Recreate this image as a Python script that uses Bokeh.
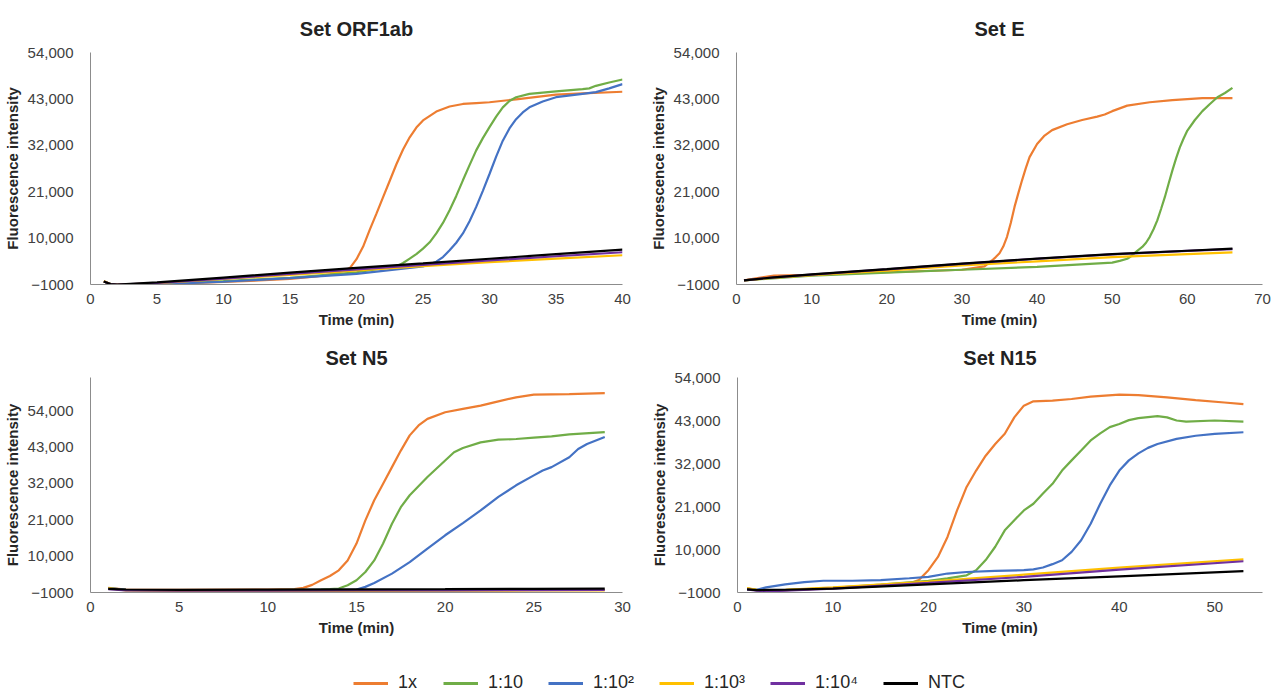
from bokeh.plotting import figure
from bokeh.models import Range1d, FixedTicker
from bokeh.layouts import column, row
from bokeh.embed import file_html
from bokeh.resources import INLINE

FONT = "Liberation Sans"
SERIES_NAMES = ["1x", "1:10", "1:10²", "1:10³", "1:10⁴", "NTC"]
SERIES_COLORS = ["#ED7D31", "#70AD47", "#4472C4", "#FFC000", "#7030A0", "#000000"]

Y_TICKS = [-1000, 10000, 21000, 32000, 43000, 54000]
Y_TICK_LABELS = ["−1000", "10,000", "21,000", "32,000", "43,000", "54,000"]

# ---------------- Set ORF1ab ----------------
orf_1x_t = [1, 1.5, 2, 5, 10, 15, 17, 18, 19, 19.5, 20, 20.5, 21, 21.5, 22, 22.5, 23, 23.5, 24, 24.5, 25, 26, 27, 28, 29, 30, 32, 35, 37, 40]
orf_1x_y = [-300, -900, -1050, -950, -400, 300, 900, 1400, 2200, 2900, 5000, 8000, 12000, 15800, 19700, 23600, 27500, 31000, 33900, 36200, 37900, 40000, 41200, 41800, 42000, 42200, 42900, 44000, 44300, 44700]
orf_10_t = [1, 1.5, 2, 5, 10, 15, 20, 23, 23.5, 24, 24.5, 25, 25.5, 26, 26.5, 27, 27.5, 28, 28.5, 29, 29.5, 30, 30.5, 31, 31.5, 32, 33, 35, 37, 37.5, 38, 39, 40]
orf_10_y = [-300, -900, -1100, -850, -200, 600, 1900, 3300, 4100, 5150, 6200, 7500, 9000, 11100, 13600, 16600, 20000, 23700, 27300, 30800, 33700, 36300, 38800, 41000, 42500, 43400, 44200, 44800, 45300, 45500, 46100, 46900, 47600]
orf_100_t = [1, 1.5, 2, 5, 10, 15, 20, 25, 25.5, 26, 26.5, 27, 27.5, 28, 28.5, 29, 29.5, 30, 30.5, 31, 31.5, 32, 32.5, 33, 34, 35, 37, 38, 39, 40]
orf_100_y = [-300, -900, -1100, -950, -350, 500, 1500, 3300, 3800, 4400, 5500, 7100, 8900, 11100, 14000, 17400, 21200, 25200, 29300, 33100, 36000, 38200, 39800, 41000, 42400, 43400, 44200, 44600, 45500, 46500]
orf_base_t = [1, 1.5, 2, 5, 10, 15, 20, 25, 30, 35, 40]
orf_1000_y = [-200, -900, -1050, -700, 300, 1300, 2350, 3350, 4300, 5150, 5930]
orf_10000_y = [-300, -900, -1050, -650, 400, 1500, 2600, 3650, 4700, 5700, 6640]
orf_ntc_y = [-300, -900, -1000, -500, 650, 1800, 2950, 4000, 5100, 6200, 7270]

# ---------------- Set E ----------------
e_1x_t = [1, 3, 5, 10, 20, 30, 33, 34, 34.5, 35, 35.5, 36, 36.5, 37, 37.5, 38, 38.5, 39, 40, 41, 42, 44, 46, 48, 49, 50, 52, 55, 58, 62, 66]
e_1x_y = [0, 600, 1100, 1300, 1900, 2500, 3300, 4700, 5500, 6400, 8000, 10300, 13600, 17400, 20600, 23700, 26600, 29200, 32300, 34300, 35600, 37000, 38000, 38800, 39300, 40100, 41400, 42200, 42700, 43200, 43200]
e_10_t = [1, 10, 20, 30, 40, 50, 51, 52, 52.5, 53, 53.5, 54, 54.5, 55, 55.5, 56, 56.5, 57, 57.5, 58, 58.5, 59, 59.5, 60, 61, 62, 63, 64, 65, 66]
e_10_y = [0, 1100, 1800, 2500, 3200, 4200, 4600, 5100, 5700, 6500, 7200, 7900, 8900, 10300, 12100, 14200, 16900, 19700, 22900, 26000, 28900, 31500, 33600, 35500, 38000, 40100, 41800, 43400, 44400, 45600]
e_base_t = [1, 5, 10, 20, 30, 40, 50, 60, 66]
e_1000_y = [0, 600, 1200, 2300, 3500, 4500, 5500, 6200, 6600]
e_10000_y = [0, 700, 1350, 2600, 3900, 5100, 6150, 6950, 7400]
e_ntc_y = [0, 700, 1400, 2650, 3950, 5150, 6200, 7000, 7500]

# ---------------- Set N5 ----------------
n5_1x_t = [1, 2, 5, 10, 11.5, 12, 12.5, 13, 13.5, 14, 14.5, 15, 15.5, 16, 16.5, 17, 17.5, 18, 18.5, 19, 20, 21, 22, 23, 24, 25, 27, 29]
n5_1x_y = [400, -100, -200, -150, 0, 400, 1300, 2700, 4000, 5700, 8700, 13800, 20800, 26900, 31900, 36900, 41900, 46500, 49500, 51500, 53500, 54500, 55500, 56800, 58000, 58800, 59000, 59300]
n5_10_t = [1, 2, 5, 10, 13, 13.5, 14, 14.5, 15, 15.5, 16, 16.5, 17, 17.5, 18, 19, 20, 20.5, 21, 22, 23, 24, 25, 26, 27, 29]
n5_10_y = [300, -200, -300, -250, -100, 0, 200, 1200, 2700, 5200, 8700, 13800, 19800, 24800, 28400, 33900, 38900, 41400, 42700, 44400, 45200, 45400, 45800, 46200, 46800, 47500]
n5_100_t = [1, 2, 5, 10, 14, 14.5, 15, 15.5, 16, 17, 18, 19, 20, 21, 22, 23, 24, 25, 25.5, 26, 27, 27.5, 28, 29]
n5_100_y = [300, -200, -300, -250, -200, -200, -100, 700, 1900, 4700, 8200, 12300, 16300, 20000, 23800, 27900, 31400, 34400, 35900, 36900, 39900, 42400, 43900, 46000]
n5_base_t = [1, 2, 5, 10, 15, 20, 25, 29]
n5_1000_y = [300, -400, -550, -550, -500, -450, -400, -350]
n5_10000_y = [0, -350, -450, -450, -400, -350, -300, -250]
n5_ntc_y = [100, -100, -200, -150, -50, 0, 100, 200]

# ---------------- Set N15 ----------------
n15_1x_t = [1, 2, 3, 5, 10, 15, 18, 19, 20, 21, 22, 23, 24, 25, 26, 27, 28, 29, 30, 31, 33, 35, 37, 40, 42, 45, 48, 51, 53]
n15_1x_y = [0, -300, -600, -400, 100, 700, 1300, 2200, 4700, 8100, 13200, 20000, 26000, 30200, 34000, 37000, 39600, 43800, 46800, 47900, 48100, 48500, 49100, 49600, 49500, 48900, 48200, 47600, 47200]
n15_10_t = [1, 2, 3, 5, 10, 15, 20, 22, 24, 25, 26, 27, 28, 29, 30, 31, 32, 33, 34, 35, 36, 37, 38, 39, 40, 41, 42, 44, 45, 46, 47, 50, 53]
n15_10_y = [0, -300, -600, -400, 200, 1000, 2000, 2600, 3400, 4700, 7300, 10700, 14900, 17500, 20000, 21700, 24300, 26800, 30200, 32800, 35300, 37900, 39700, 41300, 42100, 43100, 43600, 44100, 43800, 43000, 42700, 43000, 42700]
n15_100_t = [1, 2, 3, 5, 7, 9, 12, 15, 18, 20, 22, 24, 27, 30, 31, 32, 33, 34, 35, 36, 37, 38, 39, 40, 41, 42, 43, 44, 46, 48, 50, 53]
n15_100_y = [-200, -300, 300, 1100, 1650, 2000, 2000, 2150, 2650, 3000, 3850, 4250, 4550, 4700, 4900, 5400, 6250, 7250, 9400, 12350, 16600, 21700, 26400, 30200, 32800, 34600, 36000, 37000, 38300, 39100, 39600, 40000]
n15_base_t = [1, 2, 3, 5, 10, 20, 30, 40, 53]
n15_1000_y = [100, -300, -500, -300, 300, 1800, 3550, 5350, 7450]
n15_10000_y = [-200, -500, -700, -500, 0, 1450, 3000, 4850, 7000]
n15_ntc_y = [-200, -400, -350, -300, 0, 1100, 2150, 3150, 4450]


def make_panel(title, width, height, left, right, top, bottom, x_end, x_ticks,
               y_end, title_offset, title_standoff, series):
    p = figure(width=width, height=height, output_backend="svg", toolbar_location=None,
               x_range=Range1d(0, x_end), y_range=Range1d(-1000, y_end),
               min_border_left=left, min_border_right=right,
               min_border_top=top, min_border_bottom=bottom)
    p.title.text = title
    p.title.align = "center"
    p.title.offset = title_offset
    p.title.standoff = title_standoff
    p.title.text_font = FONT
    p.title.text_font_size = "20px"
    p.title.text_font_style = "bold"
    p.title.text_color = "#222222"
    p.outline_line_color = None
    p.grid.visible = False
    p.background_fill_color = "white"
    p.border_fill_color = "white"

    p.xaxis.ticker = FixedTicker(ticks=x_ticks)
    p.yaxis.ticker = FixedTicker(ticks=Y_TICKS)
    p.yaxis.major_label_overrides = {t: s for t, s in zip(Y_TICKS, Y_TICK_LABELS)}
    p.xaxis.axis_label = "Time (min)"
    p.yaxis.axis_label = "Fluorescence intensity"
    for ax in (p.xaxis[0], p.yaxis[0]):
        ax.axis_line_color = "#8c8c8c"
        ax.axis_line_width = 1
        ax.major_tick_line_color = None
        ax.minor_tick_line_color = None
        ax.major_tick_out = 0
        ax.major_tick_in = 0
        ax.major_label_text_font = FONT
        ax.major_label_text_font_size = "15px"
        ax.major_label_text_color = "#404040"
        ax.axis_label_text_font = FONT
        ax.axis_label_text_font_size = "15px"
        ax.axis_label_text_font_style = "bold"
        ax.axis_label_text_color = "#262626"
    p.xaxis.major_label_standoff = 9
    p.xaxis.axis_label_standoff = 4
    p.yaxis.major_label_standoff = 17
    p.yaxis.axis_label_standoff = 4

    for (t, y), color in zip(series, SERIES_COLORS):
        if t is None:
            continue
        p.line(t, y, line_color=color, line_width=2.2)
    return p


p1 = make_panel("Set ORF1ab", 640, 333, 88, 18, 52, 49, 40, list(range(0, 41, 5)), 54000, -30, 26,
                [(orf_1x_t, orf_1x_y), (orf_10_t, orf_10_y), (orf_100_t, orf_100_y),
                 (orf_base_t, orf_1000_y), (orf_base_t, orf_10000_y), (orf_base_t, orf_ntc_y)])
p2 = make_panel("Set E", 636, 333, 96, 14, 52, 49, 70, list(range(0, 71, 10)), 54000, -37, 26,
                [(e_1x_t, e_1x_y), (e_10_t, e_10_y), (None, None),
                 (e_base_t, e_1000_y), (e_base_t, e_10000_y), (e_base_t, e_ntc_y)])
p3 = make_panel("Set N5", 640, 327, 88, 18, 44, 68, 30, list(range(0, 31, 5)), 64000, -30, 18,
                [(n5_1x_t, n5_1x_y), (n5_10_t, n5_10_y), (n5_100_t, n5_100_y),
                 (n5_base_t, n5_1000_y), (n5_base_t, n5_10000_y), (n5_base_t, n5_ntc_y)])
p4 = make_panel("Set N15", 636, 327, 97, 14, 44, 68, 55, list(range(0, 51, 10)), 54000, -37, 18,
                [(n15_1x_t, n15_1x_y), (n15_10_t, n15_10_y), (n15_100_t, n15_100_y),
                 (n15_base_t, n15_1000_y), (n15_base_t, n15_10000_y), (n15_base_t, n15_ntc_y)])

leg = figure(width=1276, height=35, output_backend="svg", toolbar_location=None,
             x_range=Range1d(0, 1), y_range=Range1d(0, 1),
             x_axis_type=None, y_axis_type=None,
             min_border_left=0, min_border_right=0, min_border_top=0, min_border_bottom=0)
leg.outline_line_color = None
leg.grid.visible = False
for name, color in zip(SERIES_NAMES, SERIES_COLORS):
    leg.line([5, 6], [5, 6], line_color=color, line_width=3, legend_label=name)
lg = leg.legend[0]
lg.orientation = "horizontal"
lg.location = (353, 2)
lg.padding = 0
lg.margin = 0
lg.spacing = 25
lg.glyph_width = 35
lg.glyph_height = 20
lg.label_standoff = 10
lg.label_text_font = FONT
lg.label_text_font_size = "18px"
lg.label_text_color = "#262626"
lg.border_line_color = None
lg.background_fill_alpha = 0

layout = column(row(p1, p2), row(p3, p4), leg)
open("out.html", "w").write(file_html(layout, INLINE))
